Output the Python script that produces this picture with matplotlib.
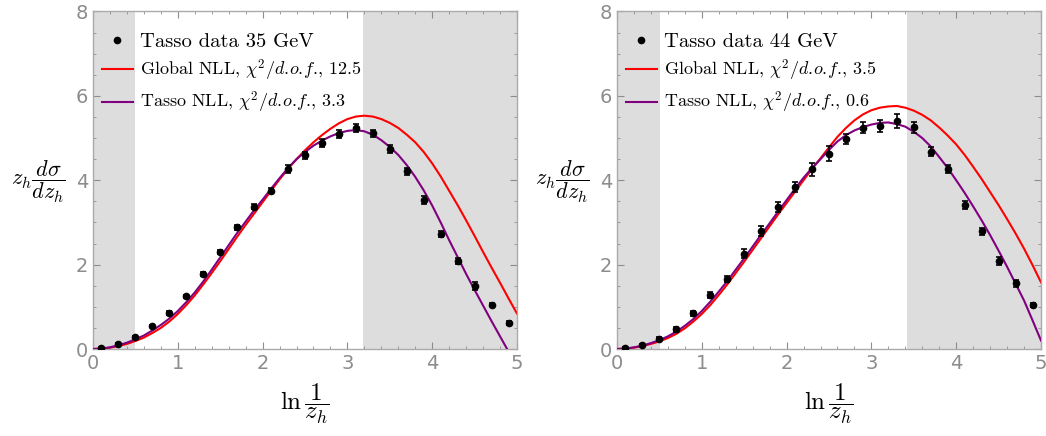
import matplotlib
matplotlib.use("Agg")
import matplotlib.pyplot as plt
from matplotlib.ticker import MultipleLocator
import numpy as np

plt.rcParams['mathtext.fontset'] = 'cm'
plt.rcParams['font.family'] = ['Liberation Sans Narrow', 'DejaVu Sans']

# data points, ln(1/z_h)
xData = [0.1, 0.3, 0.5, 0.7, 0.9, 1.1, 1.3, 1.5, 1.7, 1.9, 2.1, 2.3, 2.5,
         2.7, 2.9, 3.1, 3.3, 3.5, 3.7, 3.9, 4.1, 4.3, 4.5, 4.7, 4.9]

# Tasso 35 GeV
y35 = [0.02, 0.12, 0.28, 0.55, 0.85, 1.25, 1.78, 2.30, 2.89, 3.37, 3.75, 4.27, 4.59,
       4.88, 5.10, 5.24, 5.11, 4.74, 4.21, 3.53, 2.73, 2.08, 1.49, 1.05, 0.62]
err35 = [0.02, 0.02, 0.03, 0.03, 0.04, 0.04, 0.05, 0.05, 0.06, 0.06, 0.06, 0.09, 0.09,
         0.09, 0.09, 0.10, 0.09, 0.09, 0.09, 0.09, 0.07, 0.07, 0.09, 0.03, 0.05]

# Tasso 44 GeV
y44 = [0.02, 0.10, 0.24, 0.47, 0.85, 1.27, 1.66, 2.26, 2.80, 3.36, 3.85, 4.26, 4.63,
       4.98, 5.24, 5.29, 5.40, 5.26, 4.68, 4.26, 3.41, 2.79, 2.08, 1.56, 1.05]
err44 = [0.02, 0.03, 0.04, 0.06, 0.06, 0.07, 0.08, 0.10, 0.11, 0.12, 0.12, 0.15, 0.18,
         0.12, 0.13, 0.14, 0.16, 0.13, 0.10, 0.10, 0.10, 0.08, 0.10, 0.08, 0.05]

xCurve = [0.0, 0.1, 0.2, 0.3, 0.4, 0.5, 0.6, 0.7, 0.8, 0.9, 1.0, 1.1, 1.2, 1.3, 1.4,
          1.5, 1.6, 1.7, 1.8, 1.9, 2.0, 2.1, 2.2, 2.3, 2.4, 2.5, 2.6, 2.7, 2.8, 2.9,
          3.0, 3.1, 3.2, 3.3, 3.4, 3.5, 3.6, 3.7, 3.8, 3.9, 4.0, 4.1, 4.2, 4.3, 4.4,
          4.5, 4.6, 4.7, 4.8, 4.9, 5.0]
global35 = [0.00, 0.01, 0.03, 0.07, 0.12, 0.19, 0.27, 0.38, 0.50, 0.65, 0.83, 1.04, 1.27,
            1.53, 1.80, 2.08, 2.37, 2.66, 2.94, 3.21, 3.48, 3.75, 4.02, 4.27, 4.50, 4.71,
            4.90, 5.07, 5.22, 5.35, 5.45, 5.51, 5.53, 5.51, 5.45, 5.36, 5.24, 5.08, 4.90,
            4.67, 4.40, 4.09, 3.75, 3.41, 3.05, 2.68, 2.30, 1.93, 1.57, 1.20, 0.84]
tasso35 = [0.00, 0.01, 0.04, 0.09, 0.15, 0.23, 0.32, 0.44, 0.57, 0.72, 0.90, 1.11, 1.34,
           1.60, 1.88, 2.17, 2.46, 2.75, 3.02, 3.29, 3.54, 3.80, 4.05, 4.29, 4.50, 4.67,
           4.82, 4.94, 5.04, 5.12, 5.17, 5.19, 5.16, 5.08, 4.95, 4.79, 4.60, 4.36, 4.08,
           3.76, 3.40, 3.00, 2.58, 2.18, 1.78, 1.40, 1.03, 0.66, 0.30, -0.06, -0.42]
global44 = [0.00, 0.01, 0.03, 0.07, 0.12, 0.18, 0.26, 0.36, 0.49, 0.65, 0.83, 1.04, 1.28,
            1.53, 1.80, 2.07, 2.35, 2.63, 2.91, 3.19, 3.46, 3.73, 4.00, 4.27, 4.52, 4.78,
            5.03, 5.24, 5.42, 5.56, 5.66, 5.72, 5.75, 5.76, 5.72, 5.65, 5.55, 5.42, 5.25,
            5.06, 4.85, 4.60, 4.32, 4.03, 3.72, 3.41, 3.08, 2.74, 2.38, 1.99, 1.58]
tasso44 = [0.00, 0.01, 0.04, 0.08, 0.14, 0.21, 0.30, 0.41, 0.55, 0.71, 0.90, 1.12, 1.36,
           1.61, 1.88, 2.15, 2.43, 2.71, 2.98, 3.26, 3.53, 3.80, 4.06, 4.29, 4.50, 4.72,
           4.92, 5.07, 5.18, 5.26, 5.32, 5.36, 5.37, 5.33, 5.27, 5.15, 5.00, 4.80, 4.55,
           4.29, 4.00, 3.70, 3.38, 3.05, 2.70, 2.33, 1.95, 1.55, 1.15, 0.68, 0.20]

panels = [
    {"energy": "35", "y": y35, "err": err35, "glob": global35, "tasso": tasso35,
     "chiG": "12.5", "chiT": "3.3", "cut": (0.5, 3.18)},
    {"energy": "44", "y": y44, "err": err44, "glob": global44, "tasso": tasso44,
     "chiG": "3.5", "chiT": "0.6", "cut": (0.51, 3.42)},
]

fig = plt.figure(figsize=(10.46, 4.36), dpi=100)
axLefts = [93/1046, 617/1046]
gray = '#8c8c8c'
dof = r"$\chi^2/d.\!o.\!f.\!$"

for i in range(len(panels)):
    p = panels[i]
    ax = fig.add_axes([axLefts[i], 87/436, 424/1046, 337.5/436])
    ax.axvspan(0, p["cut"][0], color='#dddddd', lw=0, zorder=0)
    ax.axvspan(p["cut"][1], 5, color='#dddddd', lw=0, zorder=0)

    ax.plot(xCurve, p["glob"], color='#ff0000', lw=1.5, zorder=2,
            label="Global NLL, " + dof + ", " + p["chiG"])
    ax.plot(xCurve, p["tasso"], color='#800080', lw=1.5, zorder=3,
            label="Tasso NLL, " + dof + ", " + p["chiT"])
    ax.errorbar(xData, p["y"], yerr=p["err"], fmt='none', ecolor='black',
                elinewidth=1.2, capsize=2, capthick=1.2, zorder=4)
    ax.plot(xData, p["y"], 'o', color='black', ms=4.5, zorder=5,
            label="Tasso data " + p["energy"] + " GeV")

    ax.set_xlim(0, 5)
    ax.set_ylim(0, 8)
    ax.xaxis.set_major_locator(MultipleLocator(1))
    ax.xaxis.set_minor_locator(MultipleLocator(0.2))
    ax.yaxis.set_major_locator(MultipleLocator(2))
    ax.yaxis.set_minor_locator(MultipleLocator(0.5))
    ax.tick_params(which='both', direction='in', top=True, right=True, colors=gray,
                   labelsize=14, labelcolor=gray)
    ax.tick_params(which='major', length=5, width=0.8)
    ax.tick_params(which='minor', length=2.5, width=0.6)
    for s in ax.spines.values():
        s.set_color('#aaaaaa')
        s.set_linewidth(1.0)

    handles, labels = ax.get_legend_handles_labels()
    order = [2, 0, 1]
    leg = ax.legend([handles[k] for k in order], [labels[k] for k in order],
                    loc='upper left', bbox_to_anchor=(-0.017, 0.985), frameon=False,
                    prop={'family': 'cmr10', 'size': 13}, handlelength=1.7,
                    handletextpad=0.4, labelspacing=0.38)
    leg.get_texts()[0].set_fontsize(14.8)

    fig.text(axLefts[i] + 212/1046, 32/436, r"$\ln\dfrac{1}{z_h}$", fontsize=18,
             ha='center', va='center')
    fig.text(axLefts[i] - 55/1046, 254/436, r"$z_h\dfrac{d\sigma}{dz_h}$", fontsize=16,
             ha='center', va='center')

fig.savefig("out.png", dpi=100)
